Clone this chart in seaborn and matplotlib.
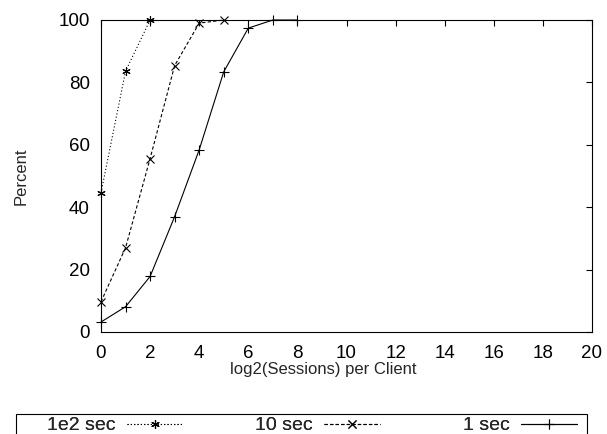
import numpy as np
import pandas as pd
import matplotlib
matplotlib.use("Agg")
import matplotlib.pyplot as plt
import matplotlib.patches as mpatches
import seaborn as sns

# values
x_1e2 = [0, 1, 2]
y_1e2 = [44.6, 83.6, 100]
x_10 = [0, 1, 2, 3, 4, 5]
y_10 = [9.7, 27.0, 55.6, 85.4, 99.0, 100]
x_1 = [0, 1, 2, 3, 4, 5, 6, 7, 8]
y_1 = [3.2, 8.1, 17.8, 37.0, 58.4, 83.4, 97.4, 100, 100]

sns.set_style("white")
plt.rcParams['font.family'] = ['Liberation Sans', 'DejaVu Sans']
plt.rcParams['font.size'] = 13

fig = plt.figure(figsize=(6.07, 4.34), dpi=100)
ax = fig.add_axes([101 / 607, 1 - 332 / 434, 491 / 607, 312 / 434])

common = dict(ax=ax, color="black", linewidth=0.8, markeredgewidth=0.8,
              markeredgecolor="black", markerfacecolor="black", clip_on=False)
# 1e2 sec: dotted with asterisk
sns.lineplot(x=x_1e2, y=y_1e2, linestyle=(0, (1, 2)), marker=(6, 2, 0),
             markersize=6, label="1e2 sec", **common)
# 10 sec: dashed with x
sns.lineplot(x=x_10, y=y_10, linestyle=(0, (3, 2)), marker="x",
             markersize=5.5, label="10 sec", **common)
# 1 sec: solid with +
sns.lineplot(x=x_1, y=y_1, linestyle="-", marker="+",
             markersize=6.5, label="1 sec", **common)

ax.set_xlim(0, 20)
ax.set_ylim(0, 100)
ax.set_xticks(range(0, 21, 2))
ax.set_yticks(range(0, 101, 20))
ax.set_xlabel("log2(Sessions) per Client", labelpad=0, fontsize=12)
ax.xaxis.set_label_coords(0.452, -0.095)
ax.set_ylabel("Percent", labelpad=21.5, fontsize=12)
ax.tick_params(direction="in", length=4, width=0.8, top=True, right=True,
               labelsize=13.5, colors="black")
ax.tick_params(axis="x", pad=9)
ax.tick_params(axis="y", pad=8)
for s in ax.spines.values():
    s.set_color("black")
    s.set_linewidth(0.8)

handles, labels = ax.get_legend_handles_labels()
ax.get_legend().remove()

# legend box along the bottom edge, entries right-aligned to their keys
fig.patches.append(mpatches.Rectangle((16 / 607, -0.05), 571 / 607, 20 / 434 + 0.05,
                                      transform=fig.transFigure, fill=False,
                                      edgecolor="black", linewidth=0.8))
key_ends = [183, 380, 577]
for h, l, xe in zip(handles, labels, key_ends):
    lg = fig.legend([h], [l], loc="center right",
                    bbox_to_anchor=(xe / 607, 8.5 / 434), frameon=False,
                    markerfirst=False, handlelength=2.9, handletextpad=0.55,
                    borderaxespad=0, borderpad=0, fontsize=14)
    fig.add_artist(lg)

fig.savefig("out.png", dpi=100)
